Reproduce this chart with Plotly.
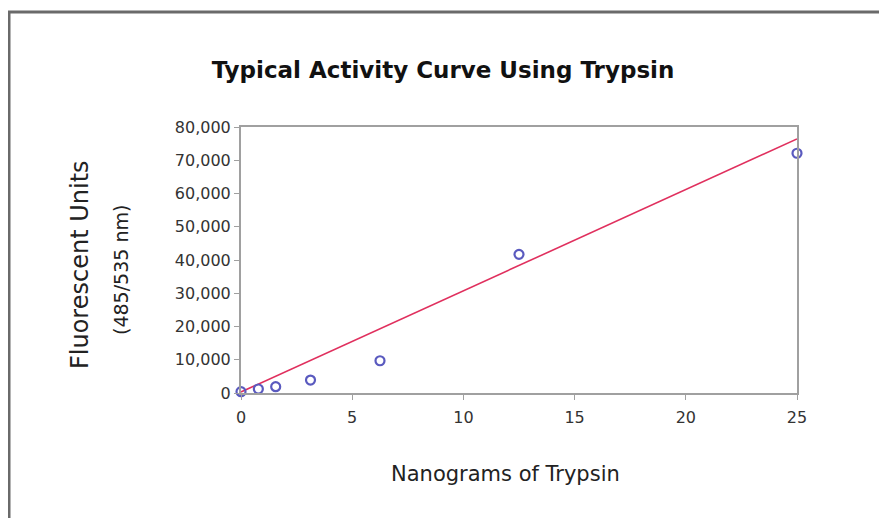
import plotly.graph_objects as go

# Data
trypsin_ng = [0, 0.78, 1.56, 3.125, 6.25, 12.5, 25]
fluorescence = [400, 1200, 1900, 3900, 9700, 41700, 72100]

fit_x = [0, 25]
fit_y = [300, 76400]

x_ticks = [0, 5, 10, 15, 20, 25]
y_ticks = [0, 10000, 20000, 30000, 40000, 50000, 60000, 70000, 80000]

FONT = "DejaVu Sans, Liberation Sans, Arial, sans-serif"

# The page body adds an 8px offset; lay the figure out in reference pixels minus 8.
OFF = 8
W, H = 887 - OFF, 518 - OFF
L = 241 - OFF
T = 127 - OFF
PW, PH = 556, 266
R = W - L - PW
B = H - T - PH


def px_to_paper_x(px):
    return (px - OFF - L) / PW


def px_to_paper_y(py):
    return (T + PH - (py - OFF)) / PH


fig = go.Figure()

fig.add_trace(go.Scatter(
    x=fit_x, y=fit_y, mode="lines",
    line=dict(color="#e0305e", width=1.6),
    showlegend=False, hoverinfo="skip",
))

fig.add_trace(go.Scatter(
    x=trypsin_ng, y=fluorescence, mode="markers",
    marker=dict(symbol="circle-open", size=9, color="#5a5abf",
                line=dict(width=2.2, color="#5a5abf")),
    cliponaxis=False, showlegend=False,
))

axis_common = dict(
    showline=True, linecolor="#a0a0a0", linewidth=2, mirror=True,
    showgrid=False, zeroline=False,
    ticks="outside", ticklen=5, tickcolor="#a0a0a0", tickwidth=1,
    tickfont=dict(family=FONT, size=16, color="#333333"),
)

fig.update_xaxes(range=[0, 25], tickvals=x_ticks, ticklabelstandoff=4, **axis_common)
fig.update_yaxes(range=[0, 80000], tickvals=y_ticks, tickformat=",d", **axis_common)

fig.update_layout(
    width=W, height=H,
    margin=dict(l=L, r=R, t=T, b=B, pad=0),
    plot_bgcolor="white", paper_bgcolor="white",
    title=dict(
        text="<b>Typical Activity Curve Using Trypsin</b>",
        x=(443 - OFF) / W, xref="container", xanchor="center",
        y=1 - (70 - OFF) / H, yref="container", yanchor="middle",
        font=dict(family=FONT, size=23, color="#111111"),
    ),
    annotations=[
        dict(text="Nanograms of Trypsin", xref="paper", yref="paper",
             x=px_to_paper_x(505), y=px_to_paper_y(474),
             xanchor="center", yanchor="middle", showarrow=False,
             font=dict(family=FONT, size=21, color="#222222")),
        dict(text="Fluorescent Units", xref="paper", yref="paper",
             x=px_to_paper_x(80), y=px_to_paper_y(265), textangle=-90,
             xanchor="center", yanchor="middle", showarrow=False,
             font=dict(family=FONT, size=24, color="#222222")),
        dict(text="(485/535 nm)", xref="paper", yref="paper",
             x=px_to_paper_x(121), y=px_to_paper_y(270), textangle=-90,
             xanchor="center", yanchor="middle", showarrow=False,
             font=dict(family=FONT, size=19, color="#222222")),
    ],
    shapes=[
        dict(type="rect", xref="paper", yref="paper",
             x0=px_to_paper_x(9), x1=px_to_paper_x(905),
             y0=px_to_paper_y(540), y1=px_to_paper_y(12),
             line=dict(color="#6a6a6a", width=3), fillcolor="rgba(0,0,0,0)",
             layer="below"),
    ],
)

fig.write_html("out.html")
